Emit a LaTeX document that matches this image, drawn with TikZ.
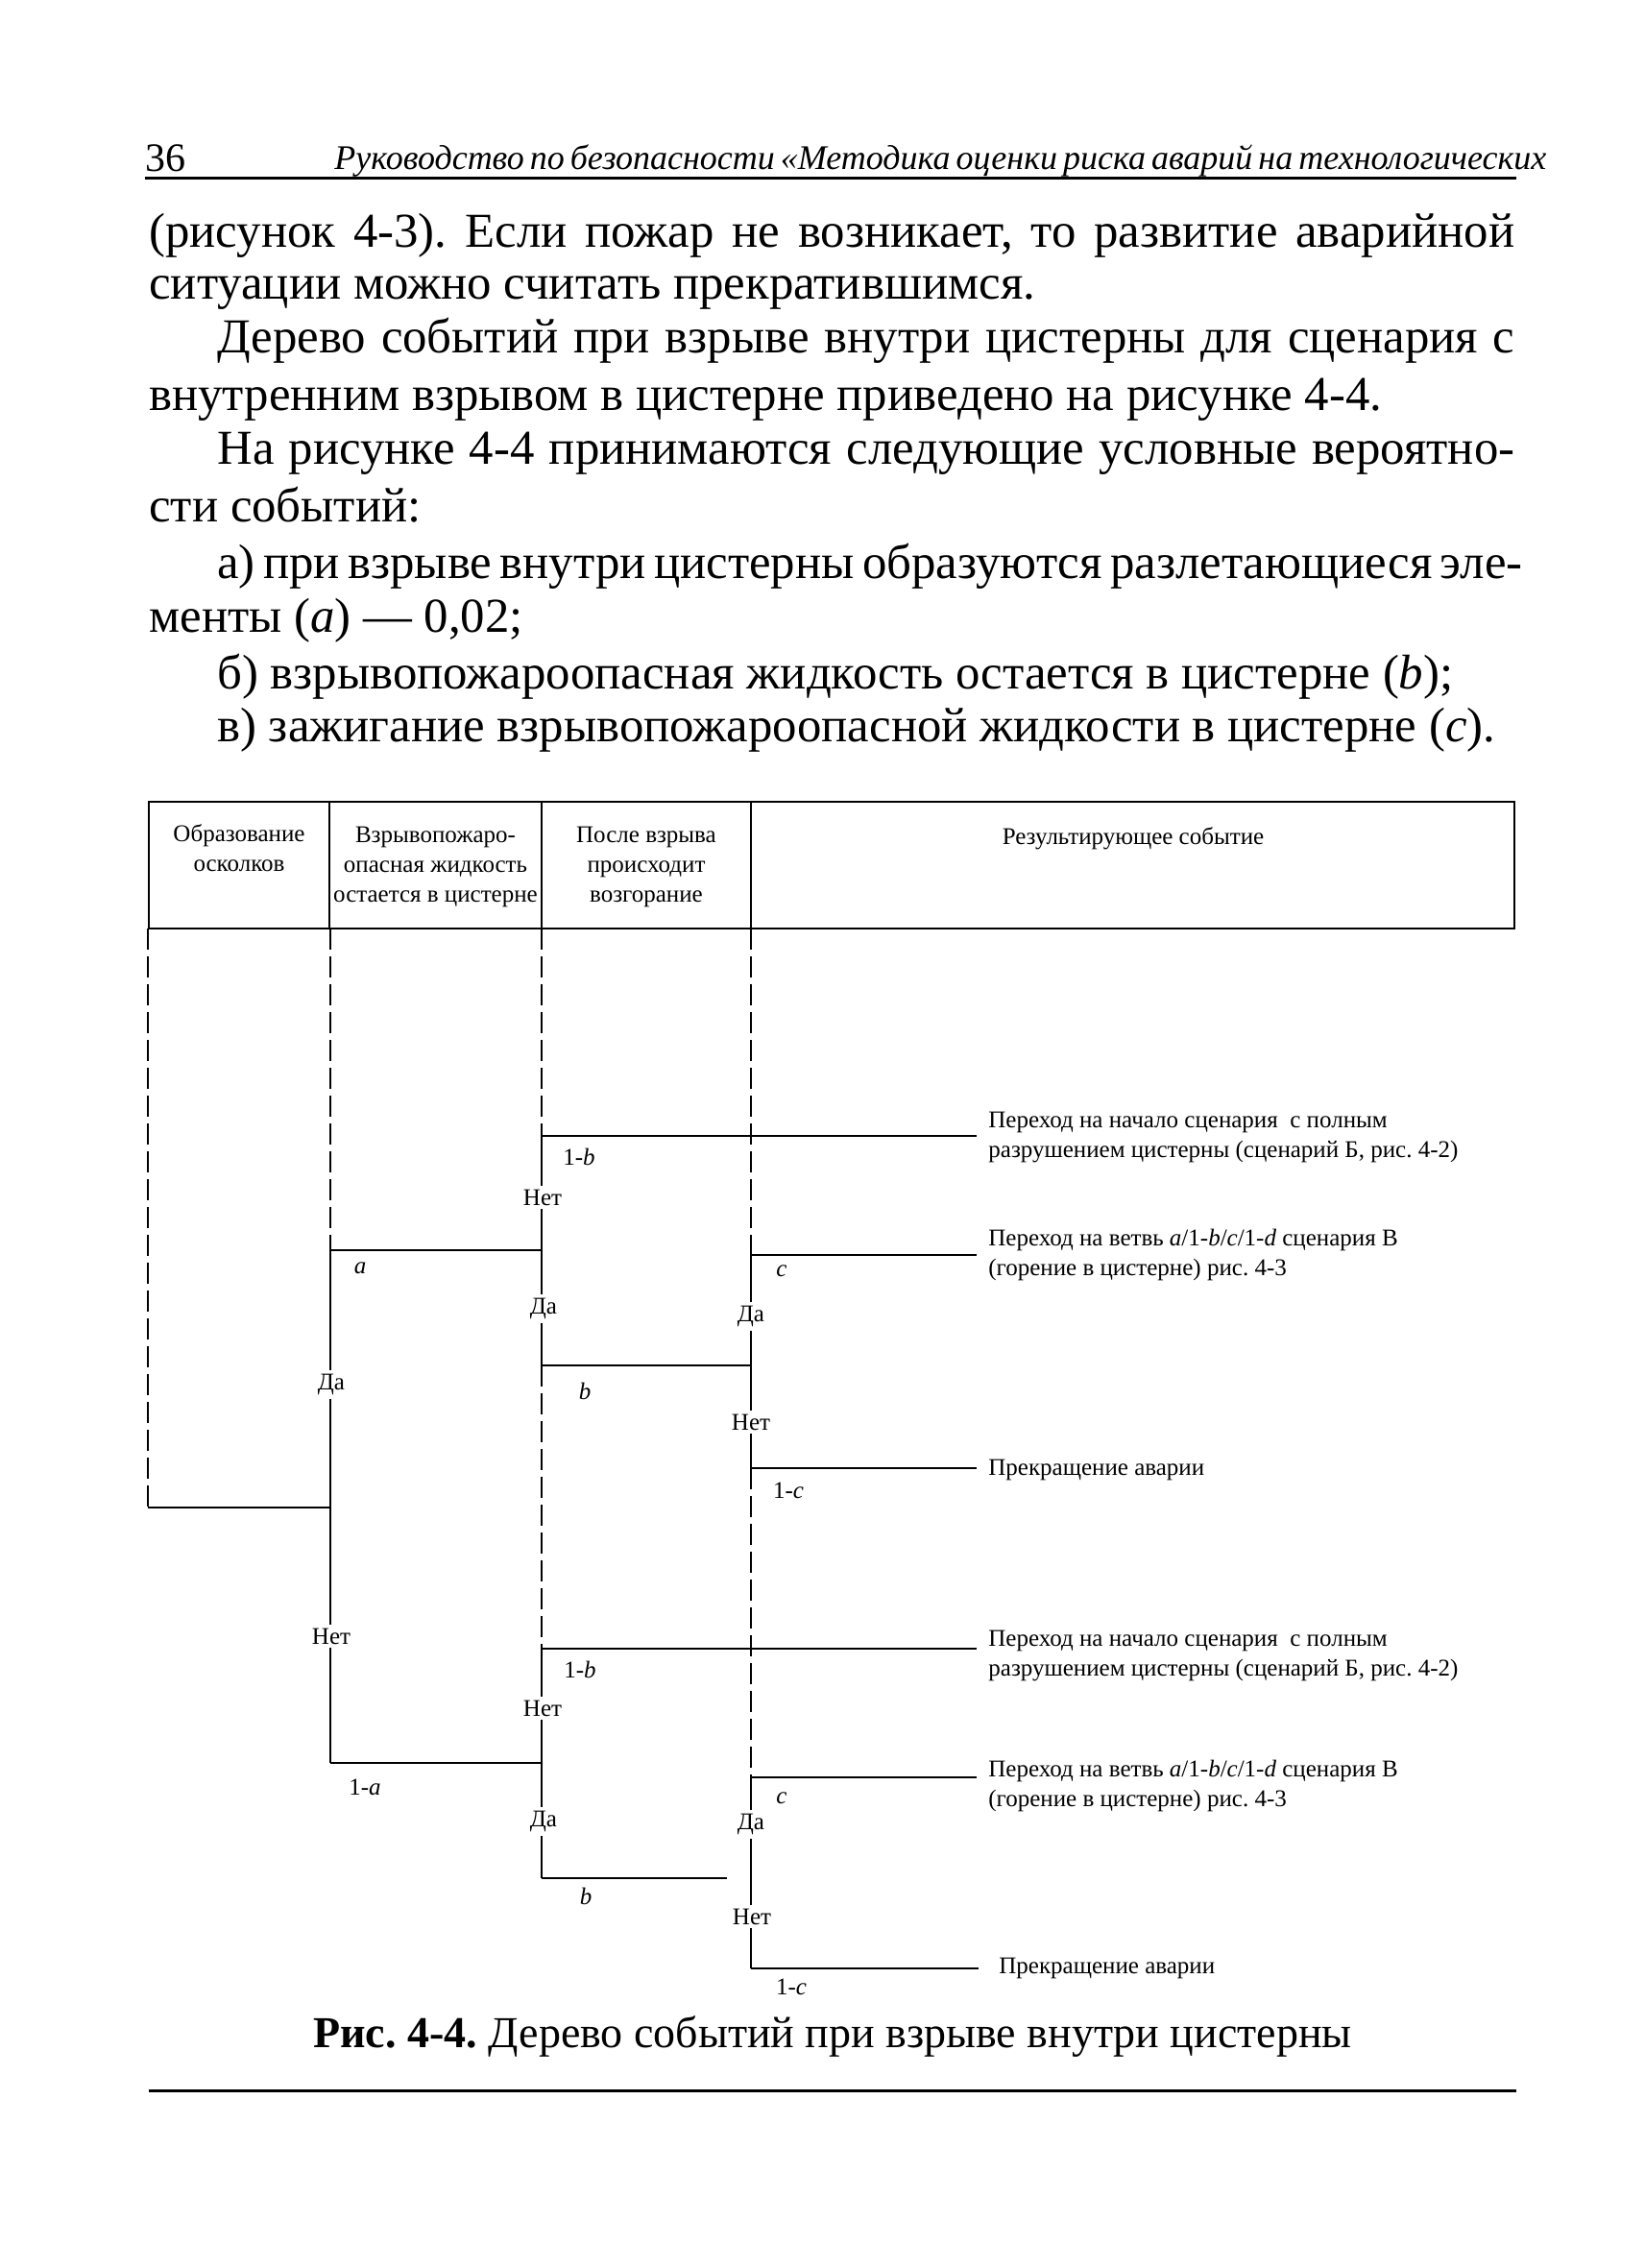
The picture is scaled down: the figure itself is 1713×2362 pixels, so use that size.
\documentclass[tikz,border=0pt]{standalone}
\usepackage{fontspec}
\setmainfont{Liberation Serif}
\frenchspacing
\begin{document}
\begin{tikzpicture}[x=0.5pt,y=-0.5pt,
  body/.style={anchor=base west, inner sep=0pt, font=\fontsize{25.4}{30}\selectfont},
  fig/.style={inner sep=0pt, font=\fontsize{12.5}{15.5}\selectfont},
  lbl/.style={fig, fill=white, inner sep=2pt, anchor=center},
  prob/.style={fig, anchor=center},
  res/.style={fig, anchor=base west, align=left},
  head/.style={fig, anchor=base, align=center},
  tree/.style={line width=1.4pt},
  guide/.style={line width=0.8pt, dash pattern=on 11pt off 3.5pt},
  frame/.style={line width=1.2pt},
  rule/.style={line width=1.5pt}]
\useasboundingbox (0,0) rectangle (1713,2362);
\fill[white] (0,0) rectangle (1713,2362);

% page header
\node[anchor=base west, inner sep=0pt, font=\fontsize{21}{25}\selectfont] (pnum) at (151,178) {36};
\node[anchor=base west, inner sep=0pt, font=\fontsize{18}{22}\selectfont\itshape] (runhead) at (348,176)
  {\makebox[614.5pt][s]{Руководство по безопасности «Методика оценки риска аварий на технологических}};
\coordinate (hr1) at (151,185); \coordinate (hr2) at (1579,185);
\draw[rule] (hr1) -- (hr2);

% body text
\node[body] (l1) at (155,257) {\makebox[711pt][s]{(рисунок 4-3). Если пожар не возникает, то развитие аварийной}};
\node[body] (l2) at (155,311) {ситуации можно считать прекратившимся.};
\node[body] (l3) at (226,367) {\makebox[675.5pt][s]{Дерево событий при взрыве внутри цистерны для сценария с}};
\node[body] (l4) at (155,427) {внутренним взрывом в цистерне приведено на рисунке 4-4.};
\node[body] (l5) at (226,483) {\makebox[675.5pt][s]{На рисунке 4-4 принимаются следующие условные вероятно-}};
\node[body] (l6) at (155,543) {сти событий:};
\node[body] (l7) at (226,602) {\makebox[675.5pt][s]{а) при взрыве внутри цистерны образуются разлетающиеся эле-}};
\node[body] (l8) at (155,658) {менты (\textit{a}) — 0,02;};
\node[body] (l9) at (226,717) {б) взрывопожароопасная жидкость остается в цистерне (\textit{b});};
\node[body] (l10) at (226,772) {в) зажигание взрывопожароопасной жидкости в цистерне (\textit{c}).};

% table header
\draw[frame] (155,835) rectangle (1577,967);
\draw[frame] (343,835) -- (343,967);
\draw[frame] (564,835) -- (564,967);
\draw[frame] (782,835) -- (782,967);
\node[head] (h1) at (249,907) {Образование\\осколков};
\node[head] (h2) at (453.5,939) {Взрывопожаро-\\опасная жидкость\\остается в цистерне};
\node[head] (h3) at (673,939) {После взрыва\\происходит\\возгорание};
\node[head] (h4) at (1180,879) {Результирующее событие};

% junction coordinates
\coordinate (L0) at (154,967);  \coordinate (L1) at (154,1570); \coordinate (J2) at (344,1570);
\coordinate (A0) at (344,967);  \coordinate (Aa) at (344,1302); \coordinate (A1a) at (344,1836);
\coordinate (Ba) at (564,1302); \coordinate (B1a) at (564,1836);
\coordinate (B0) at (564,967);  \coordinate (Bt1) at (564,1183); \coordinate (Bt2) at (564,1422);
\coordinate (Bb1) at (564,1717); \coordinate (Bb2) at (564,1956); \coordinate (Eb2) at (757,1956);
\coordinate (C0) at (782,967);  \coordinate (Ct1) at (782,1307); \coordinate (Ct2) at (782,1422);
\coordinate (Ct3) at (782,1529); \coordinate (Cb1) at (782,1851); \coordinate (Cb3) at (782,2050);
\coordinate (Rt1) at (1017,1183); \coordinate (Rt2) at (1017,1307); \coordinate (Rt3) at (1017,1529);
\coordinate (Rb1) at (1017,1717); \coordinate (Rb2) at (1017,1851); \coordinate (Rb3) at (1019,2050);

% dashed guides
\draw[guide] (L0) -- (L1);
\draw[guide] (A0) -- (Aa);
\draw[guide] (B0) -- (Bt1);
\draw[guide] (Bt2) -- (Bb1);
\draw[guide] (C0) -- (Ct1);
\draw[guide] (Ct3) -- (Cb1);

% tree branches
\draw[tree] (L1) -- (J2);
\draw[tree] (Aa) -- (A1a);
\draw[tree] (Aa) -- (Ba);
\draw[tree] (A1a) -- (B1a);
\draw[tree] (Bt1) -- (Bt2);
\draw[tree] (Bt1) -- (Rt1);
\draw[tree] (Bt2) -- (Ct2);
\draw[tree] (Bb1) -- (Bb2);
\draw[tree] (Bb1) -- (Rb1);
\draw[tree] (Bb2) -- (Eb2);
\draw[tree] (Ct1) -- (Ct3);
\draw[tree] (Ct1) -- (Rt2);
\draw[tree] (Ct3) -- (Rt3);
\draw[tree] (Cb1) -- (Cb3);
\draw[tree] (Cb1) -- (Rb2);
\draw[tree] (Cb3) -- (Rb3);

% yes/no labels
\node[lbl] (da1) at (345,1442) {Да};
\node[lbl] (net1) at (345,1704) {Нет};
\node[lbl] (net2) at (565,1247) {Нет};
\node[lbl] (da2) at (566,1363) {Да};
\node[lbl] (da3) at (782,1371) {Да};
\node[lbl] (net3) at (782,1481) {Нет};
\node[lbl] (net4) at (565,1779) {Нет};
\node[lbl] (da4) at (566,1897) {Да};
\node[lbl] (da5) at (782,1900) {Да};
\node[lbl] (net5) at (783,1996) {Нет};

% probabilities
\node[prob] (pa) at (375,1321) {\textit{a}};
\node[prob] (p1a) at (380,1861) {1-\textit{a}};
\node[prob] (p1b1) at (603,1205) {1-\textit{b}};
\node[prob] (pb1) at (609,1449) {\textit{b}};
\node[prob] (pc1) at (814,1324) {\textit{c}};
\node[prob] (p1c1) at (821,1552) {1-\textit{c}};
\node[prob] (p1b2) at (604,1739) {1-\textit{b}};
\node[prob] (pb2) at (610,1975) {\textit{b}};
\node[prob] (pc2) at (814,1873) {\textit{c}};
\node[prob] (p1c2) at (824,2069) {1-\textit{c}};

% resulting events (base = last line)
\node[res] (r1) at (1029,1205) {Переход на начало сценария\ \ с полным\\разрушением цистерны (сценарий Б, рис. 4-2)};
\node[res] (r2) at (1029,1328) {Переход на ветвь \textit{a}/1-\textit{b}/\textit{c}/1-\textit{d} сценария В\\(горение в цистерне) рис. 4-3};
\node[res] (r3) at (1029,1536) {Прекращение аварии};
\node[res] (r4) at (1029,1745) {Переход на начало сценария\ \ с полным\\разрушением цистерны (сценарий Б, рис. 4-2)};
\node[res] (r5) at (1029,1881) {Переход на ветвь \textit{a}/1-\textit{b}/\textit{c}/1-\textit{d} сценария В\\(горение в цистерне) рис. 4-3};
\node[res] (r6) at (1040,2055) {Прекращение аварии};

% caption and bottom rule
\node[anchor=base, inner sep=0pt, font=\fontsize{23}{28}\selectfont] (cap) at (867,2132)
  {\textbf{Рис. 4-4.} Дерево событий при взрыве внутри цистерны};
\coordinate (br1) at (155,2177); \coordinate (br2) at (1579,2177);
\draw[rule] (br1) -- (br2);
\end{tikzpicture}
\end{document}
